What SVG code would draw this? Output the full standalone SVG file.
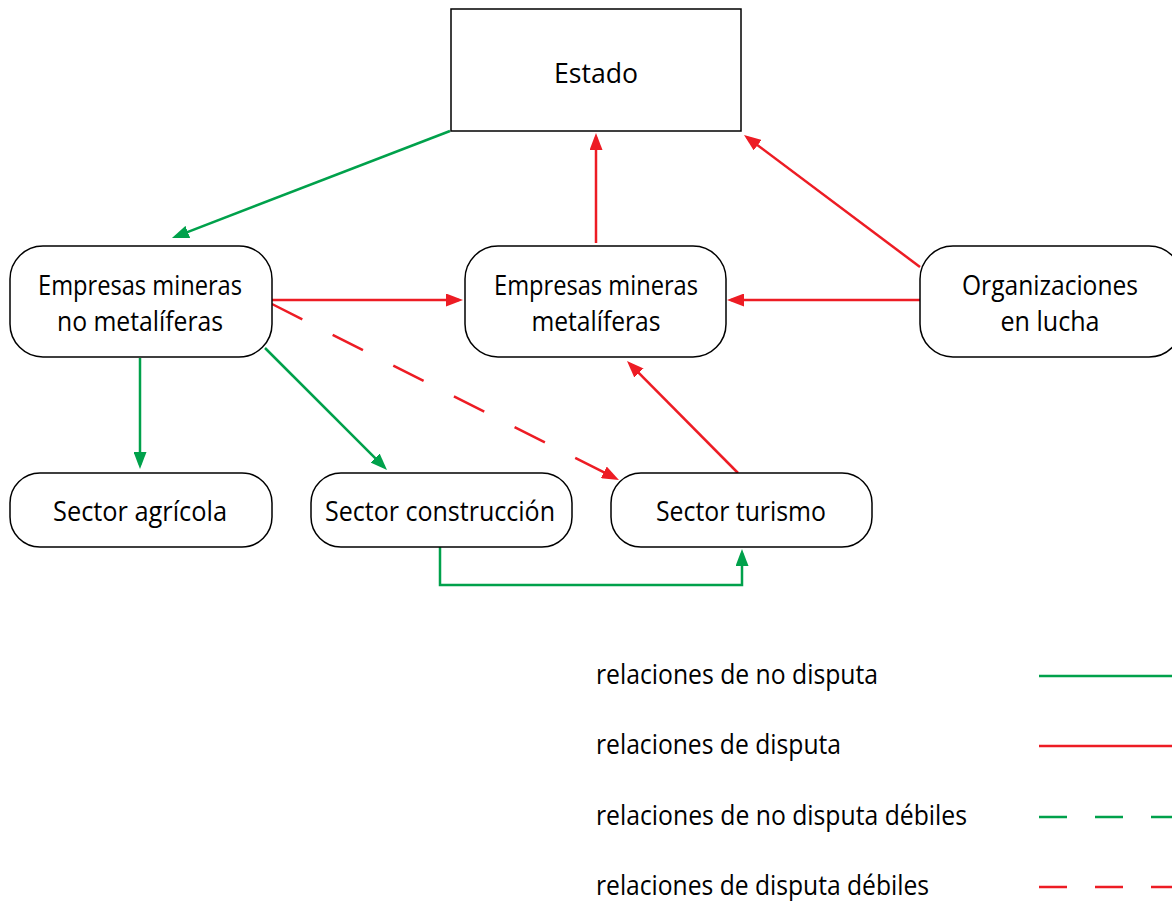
<svg xmlns="http://www.w3.org/2000/svg" width="1172" height="901" viewBox="0 0 1172 901">
<style>
.box{fill:#fff;stroke:#000;stroke-width:1.5}
.t{font-family:"Open Sans","Noto Sans",sans-serif;font-size:28px;fill:#000}
.tm{text-anchor:middle}
.g{stroke:#00A14B;stroke-width:2.5;fill:none}
.r{stroke:#ED1C24;stroke-width:2.5;fill:none}
.ga{marker-end:url(#ag)}
.ra{marker-end:url(#ar)}
</style>
<defs>
<marker id="ag" markerUnits="userSpaceOnUse" markerWidth="17" markerHeight="13" refX="13" refY="6.5" orient="auto"><path d="M0,0 L17,6.5 L0,13 z" fill="#00A14B"/></marker>
<marker id="ar" markerUnits="userSpaceOnUse" markerWidth="17" markerHeight="13" refX="13" refY="6.5" orient="auto"><path d="M0,0 L17,6.5 L0,13 z" fill="#ED1C24"/></marker>
</defs>
<rect width="1172" height="901" fill="#fff"/>
<g id="connectors">
<path class="g ga" d="M450,131 L175.7,236.6"/>
<path class="r ra" d="M596,243 L596,137"/>
<path class="r ra" d="M920,267 L747.2,137.4"/>
<path class="r ra" d="M272,300 L459,300"/>
<path class="r ra" d="M920,300 L731,300"/>
<path class="r ra" d="M272,304 L615.4,478.2" stroke-dasharray="34 34"/>
<path class="g ga" d="M140,358 L140,465"/>
<path class="g ga" d="M265,348 L384.2,467.2"/>
<path class="r ra" d="M738,473 L629.8,363.8"/>
<path class="g ga" d="M440,547 V585 H742 V553"/>
</g>
<g id="estado">
<rect class="box" x="451" y="9" width="290" height="122"/>
<text class="t tm" x="596" y="83" font-size="30" textLength="84" lengthAdjust="spacingAndGlyphs">Estado</text>
</g>
<g id="empresas-no-metaliferas">
<rect class="box" x="10" y="246" width="262" height="111" rx="33"/>
<text class="t tm" x="140" y="295" textLength="204" lengthAdjust="spacingAndGlyphs">Empresas mineras</text>
<text class="t tm" x="140" y="331" textLength="166" lengthAdjust="spacingAndGlyphs">no metalíferas</text>
</g>
<g id="empresas-metaliferas">
<rect class="box" x="465" y="246" width="261" height="111" rx="33"/>
<text class="t tm" x="596" y="295" textLength="204" lengthAdjust="spacingAndGlyphs">Empresas mineras</text>
<text class="t tm" x="596" y="331" textLength="129" lengthAdjust="spacingAndGlyphs">metalíferas</text>
</g>
<g id="organizaciones">
<rect class="box" x="920" y="246" width="262" height="111" rx="33"/>
<text class="t tm" x="1050" y="295" textLength="176" lengthAdjust="spacingAndGlyphs">Organizaciones</text>
<text class="t tm" x="1050" y="331" textLength="99" lengthAdjust="spacingAndGlyphs">en lucha</text>
</g>
<g id="sector-agricola">
<rect class="box" x="10" y="473" width="262" height="74" rx="30"/>
<text class="t tm" x="140" y="521" textLength="174" lengthAdjust="spacingAndGlyphs">Sector agrícola</text>
</g>
<g id="sector-construccion">
<rect class="box" x="311" y="473" width="261" height="74" rx="30"/>
<text class="t tm" x="440" y="521" textLength="230" lengthAdjust="spacingAndGlyphs">Sector construcción</text>
</g>
<g id="sector-turismo">
<rect class="box" x="611" y="473" width="261" height="74" rx="30"/>
<text class="t tm" x="741" y="521" textLength="170" lengthAdjust="spacingAndGlyphs">Sector turismo</text>
</g>
<g id="legend">
<text class="t" x="596" y="684" textLength="282" lengthAdjust="spacingAndGlyphs">relaciones de no disputa</text>
<text class="t" x="596" y="754" textLength="245" lengthAdjust="spacingAndGlyphs">relaciones de disputa</text>
<text class="t" x="596" y="825" textLength="371" lengthAdjust="spacingAndGlyphs">relaciones de no disputa débiles</text>
<text class="t" x="596" y="895" textLength="333" lengthAdjust="spacingAndGlyphs">relaciones de disputa débiles</text>
<path class="g" d="M1039,676 H1172"/>
<path class="r" d="M1039,746 H1172"/>
<path class="g" d="M1039,817 H1172" stroke-dasharray="28 28"/>
<path class="r" d="M1039,887 H1172" stroke-dasharray="28 28"/>
</g>
</svg>
